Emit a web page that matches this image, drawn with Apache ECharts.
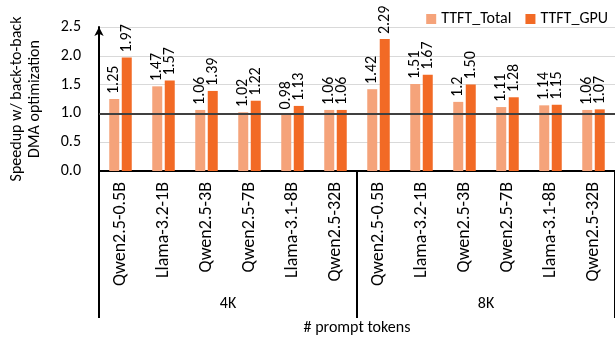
<!DOCTYPE html>
<html><head><meta charset="utf-8">
<script src="https://cdn.jsdelivr.net/npm/echarts@6/dist/echarts.min.js"></script>
<style>html,body{margin:0;padding:0;background:#fff}#c{width:615px;height:343px}</style>
</head><body><div id="c"></div>
<script>
const models = ['Qwen2.5-0.5B','Llama-3.2-1B','Qwen2.5-3B','Qwen2.5-7B','Llama-3.1-8B','Qwen2.5-32B'];
const groups = ['4K','8K'];
const categories = models.concat(models);
const ttftTotal = [1.25,1.47,1.06,1.02,0.98,1.06, 1.42,1.51,1.2,1.11,1.14,1.06];
const ttftGpu   = [1.97,1.57,1.39,1.22,1.13,1.06, 2.29,1.67,1.50,1.28,1.15,1.07];
const ttftTotalLabels = ['1.25','1.47','1.06','1.02','0.98','1.06','1.42','1.51','1.2','1.11','1.14','1.06'];
const ttftGpuLabels   = ['1.97','1.57','1.39','1.22','1.13','1.06','2.29','1.67','1.50','1.28','1.15','1.07'];
const yTicks = {min:0, max:2.5, interval:0.5};

const FONT = 'Carlito, Lato, "Open Sans", sans-serif';
const FS = 16;
const chart = echarts.init(document.getElementById('c'));
const lbl = (arr) => ({
  show:true, position:'top', rotate:90, align:'left', verticalAlign:'middle', distance:5,
  fontFamily:FONT, fontSize:FS, color:'#000',
  formatter: p => arr[p.dataIndex]
});
chart.setOption({
  animation:false,
  textStyle:{fontFamily:FONT},
  legend:{
    data:['TTFT_Total','TTFT_GPU'], right:2, top:6, itemWidth:10, itemHeight:10, itemGap:14,
    icon:'rect', textStyle:{fontSize:FS, color:'#000', fontFamily:FONT}
  },
  grid:{left:91, right:0, top:27, bottom:172},
  xAxis:[
    {type:'category', data:categories, position:'bottom',
     axisLine:{show:true, lineStyle:{color:'#000', width:2}},
     axisTick:{show:false},
     axisLabel:{rotate:90, interval:0, margin:11, fontSize:18, color:'#000', fontFamily:FONT}},
    {type:'category', data:groups, position:'bottom', offset:0,
     name:'# prompt tokens', nameLocation:'middle', nameGap:149,
     nameTextStyle:{fontSize:FS, color:'#000', fontFamily:FONT},
     axisLine:{show:false},
     axisTick:{show:true, length:147, lineStyle:{color:'#000', width:2}},
     axisLabel:{margin:125, fontSize:FS, color:'#000', fontFamily:FONT}}
  ],
  yAxis:{
    type:'value', min:yTicks.min, max:yTicks.max, interval:yTicks.interval,
    name:'Speedup w/ back-to-back\nDMA optimization', nameLocation:'middle', nameGap:55,
    nameTextStyle:{fontSize:FS, color:'#000', fontFamily:FONT, lineHeight:18},
    axisLine:{show:true, symbol:['none','arrow'], symbolSize:[7,9], lineStyle:{color:'#000', width:2}},
    axisTick:{show:false},
    axisLabel:{formatter:v=>v.toFixed(1), fontSize:FS, color:'#000', margin:18, fontFamily:FONT},
    splitLine:{show:true, lineStyle:{color:'#d9d9d9', width:1}}
  },
  series:[
    {name:'TTFT_Total', type:'bar', data:ttftTotal, barWidth:10, barGap:'25%',
     itemStyle:{color:'#F5A37A'}, label:lbl(ttftTotalLabels),
     markLine:{silent:true, symbol:'none', label:{show:false},
       lineStyle:{color:'#404040', width:2, type:'solid'}, data:[{yAxis:1.0}], z:10}},
    {name:'TTFT_GPU', type:'bar', data:ttftGpu, barWidth:10,
     itemStyle:{color:'#F26A25'}, label:lbl(ttftGpuLabels)}
  ]
});
</script>
</body></html>
